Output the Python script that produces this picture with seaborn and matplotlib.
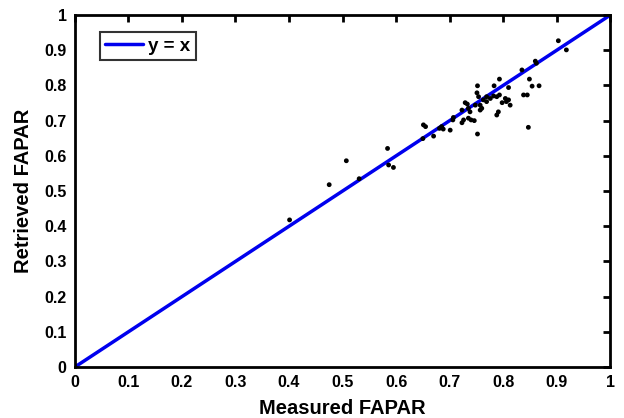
import numpy as np
import pandas as pd
import seaborn as sns
import matplotlib.pyplot as plt

measured = [0.903, 0.918, 0.860, 0.862, 0.835, 0.849, 0.854, 0.867, 0.838, 0.845,
            0.847, 0.793, 0.783, 0.810, 0.752, 0.751, 0.754, 0.769, 0.776, 0.782,
            0.788, 0.793, 0.798, 0.804, 0.810, 0.813, 0.806, 0.769, 0.763, 0.757,
            0.748, 0.757, 0.760, 0.729, 0.733, 0.735, 0.723, 0.738, 0.791, 0.788,
            0.707, 0.706, 0.726, 0.723, 0.735, 0.740, 0.746, 0.752, 0.701, 0.685,
            0.681, 0.688, 0.670, 0.651, 0.655, 0.650, 0.584, 0.586, 0.595, 0.507,
            0.475, 0.531, 0.401]
retrieved = [0.927, 0.901, 0.869, 0.863, 0.844, 0.818, 0.798, 0.799, 0.773, 0.773,
             0.681, 0.818, 0.799, 0.794, 0.799, 0.779, 0.768, 0.768, 0.763, 0.770,
             0.768, 0.773, 0.751, 0.763, 0.759, 0.744, 0.754, 0.754, 0.759, 0.744,
             0.744, 0.730, 0.735, 0.751, 0.747, 0.735, 0.730, 0.725, 0.725, 0.716,
             0.709, 0.702, 0.702, 0.694, 0.707, 0.702, 0.700, 0.662, 0.673, 0.683,
             0.678, 0.676, 0.656, 0.688, 0.683, 0.649, 0.621, 0.574, 0.567, 0.586,
             0.518, 0.535, 0.418]
ticks = [0, 0.1, 0.2, 0.3, 0.4, 0.5, 0.6, 0.7, 0.8, 0.9, 1]
tick_labels = ["0", "0.1", "0.2", "0.3", "0.4", "0.5", "0.6", "0.7", "0.8", "0.9", "1"]

df = pd.DataFrame({"measured": measured, "retrieved": retrieved})

sns.set_style("white")
plt.rcParams["font.family"] = ["Liberation Sans", "DejaVu Sans"]
plt.rcParams["font.weight"] = "bold"
plt.rcParams["text.color"] = "black"
plt.rcParams["axes.labelcolor"] = "black"

fig = plt.figure(figsize=(6.24, 4.18), dpi=100)
ax = fig.add_axes([0.12, 0.122, 0.858, 0.842])

sns.lineplot(x=[0, 1], y=[0, 1], color="#0000ee", linewidth=2.5, label="y = x", ax=ax)
sns.scatterplot(data=df, x="measured", y="retrieved", color="black", s=12,
                edgecolor="none", ax=ax, zorder=3)

ax.set_xlim(0, 1)
ax.set_ylim(0, 1)
ax.set_xticks(ticks)
ax.set_xticklabels(tick_labels)
ax.set_yticks(ticks)
ax.set_yticklabels(tick_labels)
ax.tick_params(direction="in", length=5, width=2, top=True, right=True,
               labelsize=11.5, pad=6, colors="black")
for s in ax.spines.values():
    s.set_linewidth(2)
    s.set_color("black")

ax.set_xlabel("Measured FAPAR", fontsize=14.5, fontweight="bold", labelpad=6)
ax.set_ylabel("Retrieved FAPAR", fontsize=14.5, fontweight="bold", labelpad=8)

leg = ax.legend(loc="upper left", bbox_to_anchor=(0.046, 0.952), borderaxespad=0,
                fontsize=13.5, handlelength=2.0, fancybox=False, frameon=True,
                borderpad=0.3, handletextpad=0.3)
leg.get_frame().set_edgecolor("black")
leg.get_frame().set_linewidth(1.5)
for t in leg.get_texts():
    t.set_color("black")

fig.savefig("out.png", dpi=100)
